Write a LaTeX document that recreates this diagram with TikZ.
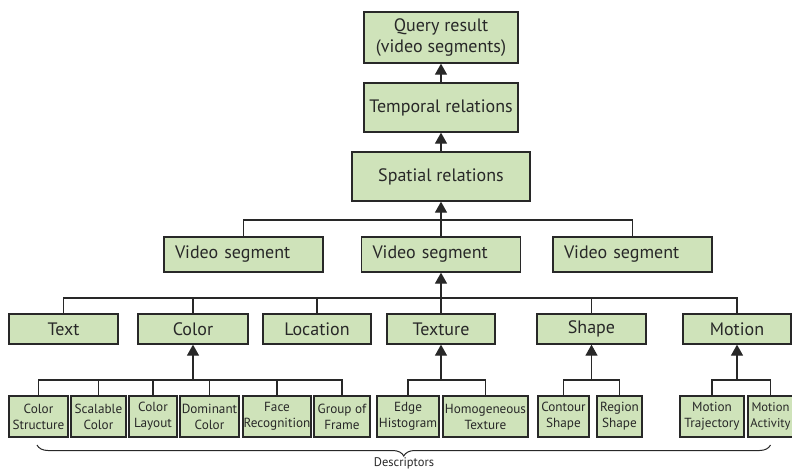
\documentclass[tikz,border=0pt]{standalone}
\usepackage{fontspec}
\setmainfont{PT Sans}
\usetikzlibrary{arrows.meta,decorations.pathreplacing,calc}
\definecolor{boxfill}{RGB}{207,227,186}
\definecolor{ink}{RGB}{40,40,40}
\begin{document}
\begin{tikzpicture}[x=1pt,y=-1pt,
  box/.style={draw=ink, fill=boxfill, line width=1.3pt, inner sep=0pt, text=ink, align=center, font=\fontsize{18}{21}\selectfont},
  vbox/.style={box, align=left, text width=137pt, inner xsep=11pt},
  small/.style={box, minimum height=41pt, font=\fontsize{13.2}{16}\selectfont},
  mid/.style={box, minimum height=30pt},
  conn/.style={draw=ink, line width=1.3pt},
  arr/.style={conn, -{Triangle[width=12pt,length=11pt]}},
]
\useasboundingbox (0,0) rectangle (792,469);

% top column
\node[box, minimum width=154pt, minimum height=51pt] (query) at (441,37.5) {Query result\\(video segments)};
\node[box, minimum width=154pt, minimum height=49pt] (temporal) at (441,107.5) {Temporal relations};
\node[box, minimum width=178pt, minimum height=49pt] (spatial) at (441,176.5) {Spatial relations};

% video segments
\node[vbox, minimum height=35pt] (vl) at (243.5,254.5) {Video segment};
\node[vbox, minimum height=35pt] (vm) at (441,254.5) {Video segment};
\node[vbox, minimum height=35pt] (vr) at (632.5,254.5) {Video segment};

% level 3
\node[mid, minimum width=109pt] (text) at (63.5,329) {Text};
\node[mid, minimum width=110pt] (color) at (193,329) {Color};
\node[mid, minimum width=108pt] (location) at (317,329) {Location};
\node[mid, minimum width=108pt] (texture) at (441,329) {Texture};
\node[mid, minimum width=109pt] (shape) at (591.5,329) {Shape};
\node[mid, minimum width=108pt] (motion) at (737,329) {Motion};

% level 4
\node[small, minimum width=59pt] (cs) at (38.5,416.5) {Color\\Structure};
\node[small, minimum width=55pt] (sc) at (98.5,416.5) {Scalable\\Color};
\node[small, minimum width=48pt] (cl) at (153,416.5) {Color\\Layout};
\node[small, minimum width=59pt] (dc) at (209.5,416.5) {Dominant\\Color};
\node[small, minimum width=68pt] (fr) at (277,416.5) {Face\\Recognition};
\node[small, minimum width=56pt] (gf) at (342,416.5) {Group of\\Frame};
\node[small, minimum width=62pt] (eh) at (408,416.5) {Edge\\Histogram};
\node[small, minimum width=85pt] (ht) at (485.5,416.5) {Homogeneous\\Texture};
\node[small, minimum width=51pt] (csh) at (563.5,416.5) {Contour\\Shape};
\node[small, minimum width=45pt] (rs) at (619.5,416.5) {Region\\Shape};
\node[small, minimum width=64pt] (mt) at (712,416.5) {Motion\\Trajectory};
\node[small, minimum width=45pt, font=\fontsize{12.6}{16}\selectfont] (ma) at (770.5,416.5) {Motion\\Activity};

% connectors top
\draw[arr] (temporal.north) -- (query.south);
\draw[arr] (spatial.north) -- (temporal.south);

\coordinate (b1) at (441,220);
\draw[conn] (vl.north) |- (b1) -| (vr.north);
\draw[arr] (vm.north) -- (spatial.south);

\coordinate (b2) at (441,298);
\draw[conn] (text.north) |- (b2) -| (motion.north);
\foreach \n in {color,location,shape} \draw[conn] (\n.north) -- (\n.north |- b2);
\draw[arr] (texture.north) -- (vm.south);

\coordinate (b3) at (0,380);
\draw[conn] (cs.north) |- (color.south |- b3) -| (gf.north);
\foreach \n in {sc,cl,dc,fr} \draw[conn] (\n.north) -- (\n.north |- b3);
\draw[arr] (color.south |- b3) -- (color.south);

\draw[conn] (eh.north) |- (texture.south |- b3) -| (ht.north);
\draw[arr] (texture.south |- b3) -- (texture.south);

\draw[conn] (csh.north) |- (shape.south |- b3) -| (rs.north);
\draw[arr] (shape.south |- b3) -- (shape.south);

\draw[conn] (mt.north) |- (motion.south |- b3) -| (ma.north);
\draw[arr] (motion.south |- b3) -- (motion.south);

% brace
\coordinate (brL) at (37,445);
\coordinate (brR) at (ma.south |- 0,445);
\draw[conn, line width=1pt, decorate, decoration={brace, mirror, amplitude=11pt}] (brL) -- (brR);
\node[text=ink, font=\fontsize{12.5}{14}\selectfont] (desc) at (404,463) {Descriptors};
\end{tikzpicture}
\end{document}
